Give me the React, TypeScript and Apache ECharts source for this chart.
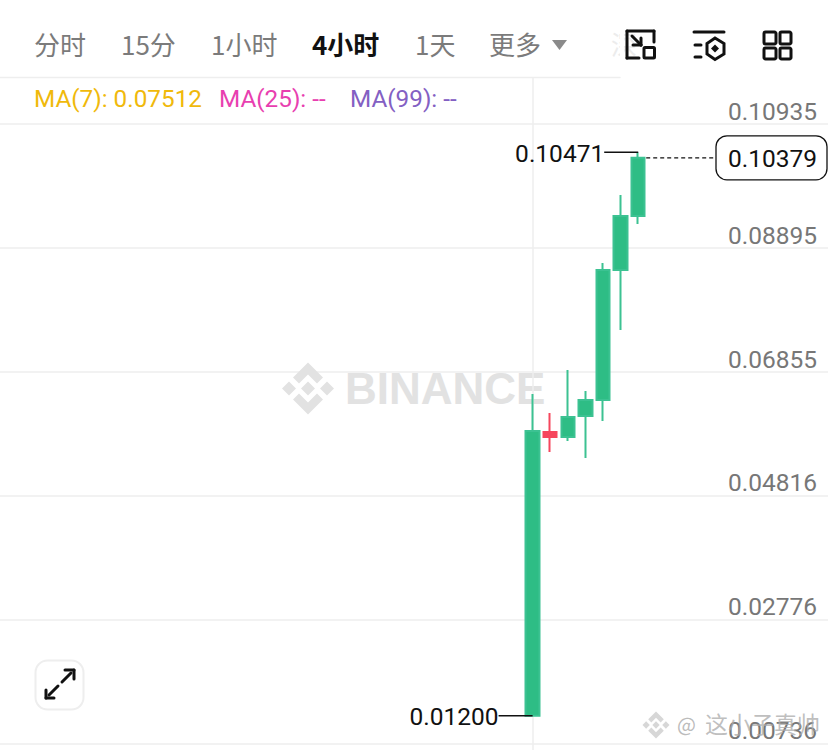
import React, { useEffect, useRef } from "react";
import * as echarts from "echarts";

const categories = Array.from({ length: 48 }, (_, i) => String(i));
const candleIndex = [30, 31, 32, 33, 34, 35, 36];
const opens = [0.012, 0.05868, 0.05786, 0.06132, 0.06395, 0.08533, 0.09422];
const closes = [0.05885, 0.05786, 0.06115, 0.06395, 0.08533, 0.09422, 0.10379];
const lows = [0.012, 0.05539, 0.0572, 0.05441, 0.06049, 0.07546, 0.0929];
const highs = [0.06494, 0.06181, 0.06888, 0.06543, 0.08648, 0.09767, 0.10471];
const tickValues = [0.00736, 0.02776, 0.04816, 0.06855, 0.08895, 0.10935];
const extremes: [number, number, string][] = [
  [36, 0.10471, "0.10471"],
  [30, 0.012, "0.01200"],
];
const lastPrice = 0.10379;
const lastLabel = "0.10379";
const tabs: [string, number, boolean][] = [
  ["分时", 34, false],
  ["15分", 121, false],
  ["1小时", 211, false],
  ["4小时", 312, true],
  ["1天", 415, false],
  ["更多", 489, false],
];
const maItems: [string, number, string][] = [
  ["MA(7): 0.07512", 34, "#f0b90b"],
  ["MA(25): --", 219, "#e83fb0"],
  ["MA(99): --", 350, "#8360c3"],
];

const FONT = "'Noto Sans CJK SC', 'Noto Sans', sans-serif";
const NUM = "Roboto, 'Noto Sans', sans-serif";
const UP = "#2ebd85";
const WICK = "#3cc292";
const DOWN = "#f6465d";
const GRID = "#eeeeee";
const WM = "#e2e2e2";

const line = (x1: number, y1: number, x2: number, y2: number, stroke = "#111", lineWidth = 3, z = 20) => ({
  type: "line", z, shape: { x1, y1, x2, y2 }, style: { stroke, lineWidth, fill: "none", lineCap: "round" },
});
const rrect = (x: number, y: number, width: number, height: number, r: number, stroke = "#111", lineWidth = 3, z = 20) => ({
  type: "rect", z, shape: { x, y, width, height, r }, style: { stroke, lineWidth, fill: "transparent" },
});
const poly = (points: number[][], fill: string, z = 1) => ({ type: "polygon", z, shape: { points }, style: { fill } });
const diamond = (cx: number, cy: number, r: number, fill = WM, z = 1) =>
  poly([[cx, cy - r], [cx + r, cy], [cx, cy + r], [cx - r, cy]], fill, z);
const logo = (cx: number, cy: number, s: number, fill: string, z = 1) => {
  const top = [[0, -26], [15, -11], [9, -5], [0, -14], [-9, -5], [-15, -11]];
  return [
    poly(top.map(([a, b]) => [cx + a * s, cy + b * s]), fill, z),
    poly(top.map(([a, b]) => [cx + a * s, cy - b * s]), fill, z),
    diamond(cx, cy, 7 * s, fill, z),
    diamond(cx - 19 * s, cy, 7 * s, fill, z),
    diamond(cx + 19 * s, cy, 7 * s, fill, z),
  ];
};

export default function App() {
  const ref = useRef<HTMLDivElement>(null);
  useEffect(() => {
    document.body.style.margin = "0";
    const chart = echarts.init(ref.current!, undefined, { renderer: "svg" });
    chart.setOption({
      animation: false,
      backgroundColor: "#fff",
      grid: { left: -4.2, right: -12.6, top: 78, bottom: 0, outerBoundsMode: "none" },
      xAxis: {
        type: "category",
        data: categories,
        axisLine: { show: false },
        axisTick: { show: false },
        axisLabel: { show: false },
        splitLine: { show: false },
      },
      yAxis: {
        type: "value",
        position: "right",
        min: 0.00637,
        max: 0.11692,
        axisLine: { show: false },
        axisTick: { show: false, customValues: tickValues },
        splitLine: { show: true, lineStyle: { color: GRID, width: 1.5 } },
        axisLabel: {
          inside: true,
          margin: 23.6,
          customValues: tickValues,
          color: "#777",
          fontFamily: NUM,
          fontSize: 24.5,
          verticalAlign: "bottom",
          lineHeight: 26,
          formatter: (v: number) => v.toFixed(5),
        },
      },
      series: [
        {
          type: "candlestick",
          z: 5,
          barWidth: 14,
          encode: { x: 0, y: [1, 2, 3, 4] },
          itemStyle: { color: UP, color0: DOWN, borderColor: WICK, borderColor0: DOWN, borderWidth: 2 },
          data: candleIndex.map((x, i) => [x, opens[i], closes[i], lows[i], highs[i]]),
          markLine: {
            silent: true,
            symbol: "none",
            label: { show: false },
            lineStyle: { color: GRID, width: 1.5, type: "solid" },
            data: [{ xAxis: "30" }],
            z: 1,
          },
        },
        {
          type: "custom",
          z: 6,
          clip: false,
          encode: { x: 0, y: 1 },
          data: extremes,
          renderItem: (p: any, api: any) => {
            const [x, y] = api.coord([api.value(0), api.value(1)]);
            const len = 34;
            return {
              type: "group",
              children: [
                { type: "line", shape: { x1: x - len, y1: y, x2: x, y2: y }, style: { stroke: "#111", lineWidth: 1.5 } },
                {
                  type: "text",
                  style: {
                    text: extremes[p.dataIndex][2],
                    x: x - len,
                    y: y + 1,
                    align: "right",
                    verticalAlign: "middle",
                    fill: "#111",
                    fontFamily: NUM,
                    fontSize: 24.5,
                  },
                },
              ],
            };
          },
        },
        {
          type: "custom",
          z: 7,
          clip: false,
          encode: { x: 0, y: 1 },
          data: [[36, lastPrice]],
          renderItem: (_: any, api: any) => {
            const [x, y] = api.coord([api.value(0), api.value(1)]);
            return {
              type: "group",
              children: [
                {
                  type: "line",
                  shape: { x1: x + 8, y1: y, x2: 716, y2: y },
                  style: { stroke: "#111", lineWidth: 1.3, lineDash: [4, 3] },
                },
                {
                  type: "rect",
                  shape: { x: 716, y: y - 22, width: 111, height: 44, r: 11 },
                  style: { fill: "#fff", stroke: "#111", lineWidth: 1.3 },
                },
                {
                  type: "text",
                  style: {
                    text: lastLabel,
                    x: 817,
                    y: y + 1,
                    align: "right",
                    verticalAlign: "middle",
                    fill: "#111",
                    fontFamily: NUM,
                    fontSize: 24.5,
                  },
                },
              ],
            };
          },
        },
      ],
      graphic: [
        // top separator
        line(0, 77.5, 620, 77.5, GRID, 1.5, 2),
        // tabs
        ...tabs.map(([t, x, on]) => ({
          type: "text",
          z: 20,
          x,
          y: 43,
          style: {
            text: t,
            verticalAlign: "middle",
            fill: on ? "#111" : "#7b7b7b",
            fontFamily: FONT,
            fontWeight: on ? 700 : 400,
            fontSize: 26,
          },
        })),
        poly([[552, 40], [567, 40], [559.5, 50]], "#8a8a8a", 20),
        {
          type: "text",
          z: 20,
          x: 611,
          y: 43,
          style: { text: "深", verticalAlign: "middle", fill: "#ececec", fontFamily: FONT, fontSize: 26 },
        },
        { type: "rect", z: 21, shape: { x: 620, y: 20, width: 4, height: 56 }, style: { fill: "#fff" } },
        // left icon
        line(627, 31, 654, 31), line(654, 31, 654, 42),
        line(627, 31, 627, 58), line(627, 58, 639, 58),
        rrect(644, 47.5, 10.5, 10.5, 1),
        line(632, 36, 641, 45), line(641, 38, 641, 45), line(633, 45, 641, 45),
        // middle icon
        line(694, 32, 724, 32), line(695, 45, 701, 45), line(695, 57, 701, 57),
        {
          type: "polygon", z: 20,
          shape: { points: [[715, 38], [724, 43.5], [724, 54], [715, 59.5], [707, 54], [707, 43.5]] },
          style: { stroke: "#111", lineWidth: 3, fill: "transparent" },
        },
        diamond(715, 48.5, 4, "#111", 20),
        // right icon
        rrect(764, 32, 12, 12, 1.5), rrect(780, 32, 11, 12, 1.5),
        rrect(764, 48, 12, 11, 1.5), rrect(780, 48, 11, 11, 1.5),
        // MA legend
        ...maItems.map(([t, x, c]) => ({
          type: "text",
          z: 20,
          x,
          y: 98,
          style: { text: t, verticalAlign: "middle", fill: c, fontFamily: NUM, fontSize: 24.3 },
        })),
        // BINANCE watermark
        ...logo(308, 388.5, 1, WM),
        {
          type: "text",
          z: 1,
          x: 345,
          y: 388,
          style: {
            text: "BINANCE",
            verticalAlign: "middle",
            fill: WM,
            fontFamily: "'Liberation Sans', sans-serif",
            fontWeight: 700,
            fontSize: 44,
          },
        },
        // expand button
        rrect(35.5, 660.5, 48, 49, 12, "#eeeeee", 2),
        line(49, 695, 58, 686), line(46, 698, 46, 690), line(46, 698, 54, 698),
        line(62, 682, 71, 673), line(74, 670, 65, 670), line(74, 670, 74, 679),
        // image watermark
        ...logo(656, 725, 0.52, "rgba(205,205,205,0.8)", 30),
        {
          type: "text",
          z: 30,
          x: 677,
          y: 723,
          style: { text: "@", verticalAlign: "middle", fill: "rgba(170,170,170,0.8)", fontFamily: FONT, fontSize: 20 },
        },
        {
          type: "text",
          z: 30,
          x: 705,
          y: 723,
          style: { text: "这小子真帅", verticalAlign: "middle", fill: "rgba(170,170,170,0.75)", fontFamily: FONT, fontSize: 23 },
        },
      ],
    });
    return () => chart.dispose();
  }, []);
  return <div ref={ref} style={{ width: 828, height: 750 }} />;
}
